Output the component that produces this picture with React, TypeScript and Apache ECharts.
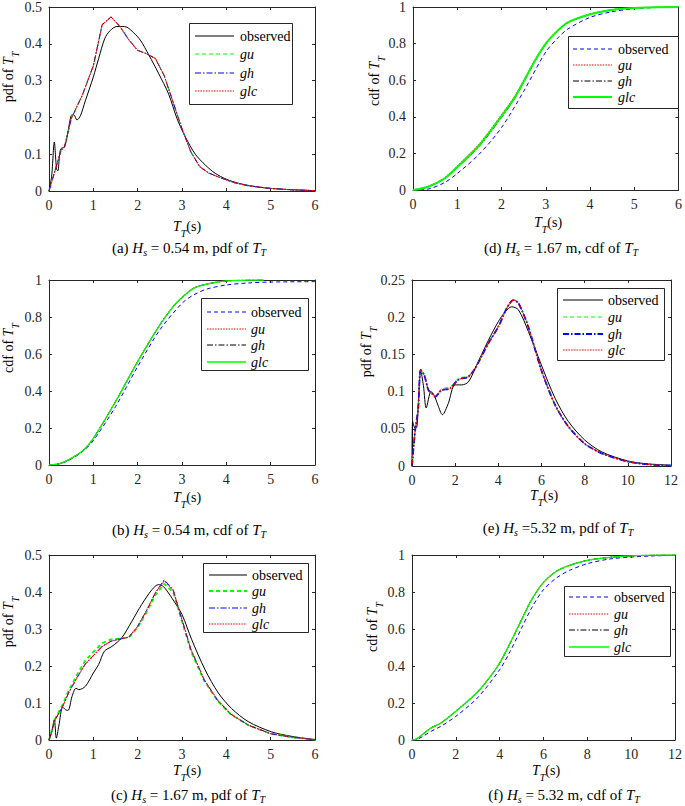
import React, { useEffect, useRef } from 'react';
import * as echarts from 'echarts';

const FONT = "'Liberation Serif', 'Times New Roman', serif";
const AX = '#262626';

// ---------- (a) Hs = 0.54 m, pdf ----------
const aObsX = [0, 0.06, 0.12, 0.17, 0.2, 0.24, 0.27, 0.35, 0.42, 0.5, 0.56, 0.63, 0.71, 0.82, 1.0, 1.12, 1.26, 1.38, 1.53, 1.65, 1.76, 1.91, 2.06, 2.25, 2.47, 2.7, 2.89, 3.08, 3.3, 3.53, 3.75, 4.0, 4.28, 4.58, 5.0, 5.48, 6.0];
const aObsY = [0, 0.04, 0.133, 0.06, 0.055, 0.1, 0.115, 0.12, 0.155, 0.205, 0.207, 0.193, 0.205, 0.245, 0.31, 0.36, 0.415, 0.436, 0.447, 0.447, 0.445, 0.43, 0.41, 0.37, 0.32, 0.263, 0.196, 0.146, 0.1, 0.07, 0.048, 0.032, 0.021, 0.0135, 0.007, 0.0036, 0.001];
const aFitX = [0, 0.14, 0.27, 0.35, 0.5, 0.75, 1.0, 1.2, 1.4, 1.6, 1.8, 2.0, 2.2, 2.4, 2.6, 2.8, 3.0, 3.2, 3.4, 3.6, 3.8, 4.0, 4.2, 4.5, 5.0, 5.5, 6.0];
const aGuY = [0, 0.057, 0.11, 0.121, 0.197, 0.26, 0.341, 0.452, 0.473, 0.447, 0.411, 0.382, 0.373, 0.36, 0.313, 0.241, 0.169, 0.106, 0.066, 0.049, 0.039, 0.03, 0.022, 0.014, 0.007, 0.003, 0.001];
const aGhY = [0, 0.057, 0.11, 0.12, 0.196, 0.26, 0.34, 0.452, 0.473, 0.447, 0.411, 0.382, 0.373, 0.36, 0.313, 0.241, 0.169, 0.106, 0.066, 0.049, 0.039, 0.03, 0.022, 0.014, 0.007, 0.003, 0.001];
const aGlcY = [0, 0.057, 0.11, 0.12, 0.196, 0.26, 0.34, 0.452, 0.473, 0.447, 0.411, 0.382, 0.373, 0.36, 0.313, 0.241, 0.169, 0.106, 0.066, 0.049, 0.039, 0.03, 0.022, 0.014, 0.007, 0.003, 0.001];

// ---------- (d) Hs = 1.67 m, cdf ----------
const dObsX = [0, 0.34, 0.71, 1.0, 1.5, 2.0, 2.5, 3.0, 3.27, 3.5, 4.0, 4.47, 5.0, 5.5, 6.0];
const dObsY = [0, 0.005, 0.04, 0.09, 0.197, 0.341, 0.539, 0.754, 0.83, 0.88, 0.943, 0.973, 0.991, 0.997, 1.0];
const dFitX = [0, 0.34, 0.71, 1.0, 1.5, 2.0, 2.29, 2.5, 2.74, 3.0, 3.27, 3.5, 4.0, 4.47, 5.0, 5.5, 6.0];
const dGuY = [0, 0.019, 0.066, 0.13, 0.252, 0.41, 0.508, 0.597, 0.703, 0.801, 0.871, 0.915, 0.96, 0.984, 0.995, 0.999, 1.0];
const dGhY = [0, 0.017, 0.061, 0.122, 0.24, 0.397, 0.497, 0.588, 0.697, 0.798, 0.87, 0.915, 0.96, 0.984, 0.995, 0.999, 1.0];
const dGlcY = [0, 0.018, 0.063, 0.126, 0.246, 0.404, 0.503, 0.593, 0.7, 0.8, 0.871, 0.916, 0.96, 0.984, 0.995, 0.999, 1.0];

// ---------- (b) Hs = 0.54 m, cdf ----------
const bObsX = [0, 0.26, 0.5, 0.78, 1.0, 1.5, 2.0, 2.5, 3.0, 3.26, 3.56, 4.0, 4.5, 5.0, 6.0];
const bObsY = [0, 0.007, 0.032, 0.077, 0.132, 0.315, 0.532, 0.73, 0.874, 0.919, 0.951, 0.973, 0.984, 0.989, 0.991];
const bFitX = [0, 0.26, 0.5, 0.78, 1.0, 1.5, 2.0, 2.5, 2.8, 3.0, 3.26, 3.56, 4.0, 4.47, 4.84];
const bGuY = [0, 0.009, 0.036, 0.081, 0.144, 0.342, 0.559, 0.757, 0.856, 0.905, 0.955, 0.978, 0.995, 0.999, 1.0];
const bGhY = [0, 0.009, 0.036, 0.081, 0.144, 0.342, 0.559, 0.757, 0.856, 0.905, 0.955, 0.978, 0.995, 0.999, 1.0];
const bGlcY = [0, 0.009, 0.036, 0.081, 0.144, 0.342, 0.559, 0.757, 0.856, 0.905, 0.955, 0.978, 0.995, 0.999, 1.0];

// ---------- (e) Hs = 5.32 m, pdf ----------
const eObsX = [0, 0.03, 0.14, 0.23, 0.32, 0.4, 0.53, 0.66, 0.88, 1.03, 1.2, 1.41, 1.68, 1.99, 2.3, 2.61, 2.92, 3.54, 4.0, 4.31, 4.62, 4.93, 5.39, 5.99, 6.63, 7.24, 8.0, 8.79, 10.0, 10.95, 12.0];
const eObsY = [0, 0.06, 0.051, 0.053, 0.1, 0.128, 0.108, 0.078, 0.1, 0.095, 0.082, 0.069, 0.084, 0.109, 0.109, 0.113, 0.131, 0.169, 0.194, 0.207, 0.214, 0.21, 0.181, 0.136, 0.091, 0.06, 0.035, 0.019, 0.0067, 0.0027, 0.001];
const eFitX = [0, 0.14, 0.29, 0.4, 0.57, 0.76, 0.91, 1.07, 1.37, 1.76, 2.15, 2.61, 2.92, 3.54, 4.0, 4.39, 4.69, 4.93, 5.39, 5.99, 6.63, 7.24, 8.0, 8.79, 10.0, 10.95, 12.0];
const eGuY = [0, 0.046, 0.078, 0.129, 0.122, 0.103, 0.099, 0.094, 0.104, 0.106, 0.118, 0.121, 0.131, 0.165, 0.188, 0.213, 0.224, 0.22, 0.187, 0.129, 0.082, 0.053, 0.03, 0.017, 0.0058, 0.0022, 0.0005];
const eGhY = [0, 0.046, 0.078, 0.129, 0.122, 0.102, 0.098, 0.093, 0.102, 0.104, 0.116, 0.12, 0.131, 0.165, 0.187, 0.212, 0.223, 0.219, 0.187, 0.129, 0.082, 0.053, 0.03, 0.017, 0.0058, 0.0022, 0.0005];
const eGlcY = [0, 0.046, 0.078, 0.129, 0.122, 0.102, 0.098, 0.093, 0.102, 0.104, 0.116, 0.12, 0.131, 0.165, 0.187, 0.212, 0.223, 0.219, 0.187, 0.129, 0.082, 0.053, 0.03, 0.017, 0.0058, 0.0022, 0.0005];

// ---------- (c) Hs = 1.67 m, pdf ----------
const cObsX = [0, 0.06, 0.12, 0.165, 0.22, 0.31, 0.37, 0.43, 0.52, 0.61, 0.67, 0.82, 1.0, 1.12, 1.25, 1.42, 1.64, 1.87, 2.09, 2.32, 2.47, 2.58, 2.77, 3.0, 3.22, 3.52, 3.82, 4.12, 4.49, 5.02, 5.47, 6.0];
const cObsY = [0, 0.02, 0.055, 0.005, 0.037, 0.089, 0.082, 0.08, 0.118, 0.14, 0.136, 0.145, 0.181, 0.204, 0.24, 0.253, 0.276, 0.321, 0.366, 0.406, 0.42, 0.415, 0.384, 0.339, 0.271, 0.19, 0.127, 0.085, 0.05, 0.022, 0.01, 0.001];
const cFitX = [0, 0.07, 0.14, 0.31, 0.44, 0.63, 0.81, 1.0, 1.2, 1.4, 1.6, 1.8, 2.0, 2.2, 2.4, 2.6, 2.8, 3.0, 3.2, 3.5, 3.8, 4.1, 4.5, 5.0, 5.5, 6.0];
const cGuY = [0, 0.03, 0.058, 0.096, 0.133, 0.176, 0.213, 0.238, 0.262, 0.272, 0.274, 0.277, 0.304, 0.345, 0.392, 0.422, 0.4, 0.32, 0.24, 0.16, 0.106, 0.069, 0.04, 0.017, 0.007, 0.001];
const cGhY = [0, 0.028, 0.055, 0.091, 0.127, 0.168, 0.204, 0.228, 0.253, 0.267, 0.273, 0.278, 0.307, 0.35, 0.398, 0.433, 0.406, 0.325, 0.245, 0.163, 0.108, 0.07, 0.04, 0.017, 0.007, 0.001];
const cGlcY = [0, 0.028, 0.055, 0.091, 0.127, 0.168, 0.204, 0.228, 0.253, 0.267, 0.273, 0.278, 0.307, 0.35, 0.398, 0.43, 0.405, 0.325, 0.245, 0.163, 0.108, 0.07, 0.04, 0.017, 0.007, 0.001];

// ---------- (f) Hs = 5.32 m, cdf ----------
const fObsX = [0, 0.2, 0.5, 0.87, 1.32, 2.0, 2.98, 4.0, 4.48, 5.0, 5.46, 6.0, 6.59, 7.19, 8.0, 9.0, 10.0, 11.0, 12.0];
const fObsY = [0, 0.002, 0.02, 0.047, 0.074, 0.128, 0.227, 0.38, 0.479, 0.605, 0.714, 0.813, 0.876, 0.917, 0.953, 0.978, 0.989, 0.995, 0.998];
const fFitX = [0, 0.2, 0.5, 0.87, 1.32, 2.0, 2.98, 3.58, 4.0, 4.48, 5.0, 5.46, 6.0, 6.59, 7.19, 8.0, 9.0, 10.0, 11.0, 12.0];
const fGuY = [0, 0.005, 0.032, 0.065, 0.092, 0.155, 0.258, 0.344, 0.416, 0.524, 0.65, 0.759, 0.852, 0.912, 0.944, 0.971, 0.987, 0.995, 0.999, 1.0];
const fGhY = [0, 0.005, 0.032, 0.065, 0.092, 0.155, 0.258, 0.344, 0.416, 0.524, 0.65, 0.759, 0.852, 0.912, 0.944, 0.971, 0.987, 0.995, 0.999, 1.0];
const fGlcY = [0, 0.005, 0.032, 0.065, 0.092, 0.155, 0.258, 0.344, 0.416, 0.524, 0.65, 0.759, 0.852, 0.912, 0.944, 0.971, 0.987, 0.995, 0.999, 1.0];

const legendNames = ['observed', 'gu', 'gh', 'glc'];

const zip = (xs: number[], ys: number[]) => xs.map((x, i) => [x, ys[i]]);

const DASH = [4, 3];
const DASHDOT = [6, 2, 1.5, 2];
const DOT = [1.5, 1.2];

type St = { color: string; width: number; dash: number[] | null };
const pdfStyles = (guW = 1, ghW = 1): St[] => [
  { color: '#000000', width: 1, dash: null },
  { color: '#00ff00', width: guW, dash: DASH },
  { color: '#0000ff', width: ghW, dash: DASHDOT },
  { color: '#ff0000', width: 1.1, dash: DOT },
];
const cdfStyles = (glcW = 1.3): St[] => [
  { color: '#0000ff', width: 1, dash: DASH },
  { color: '#ff0000', width: 1.1, dash: DOT },
  { color: '#000000', width: 1, dash: DASHDOT },
  { color: '#00ff00', width: glcW, dash: null },
];

// smoothing per series: [observed, gu, gh, glc]
const panels = [
  {
    id: 'a', grid: { left: 49, top: 5, width: 266, height: 186 }, xmax: 6, xint: 1, ymax: 0.5, yint: 0.1,
    series: [zip(aObsX, aObsY), zip(aFitX, aGuY), zip(aFitX, aGhY), zip(aFitX, aGlcY)], styles: pdfStyles(),
    smooth: [0.3, 0, 0, 0],
    legend: { box: [189, 23, 103, 81], lx: [195, 234], tx: 240, rows: [36, 54, 73, 91] },
    ylab: { x: 8, y: 77, text: 'pdf of ' }, xlab: { x: 187, y: 226 },
    cap: { x: 189, y: 248, pre: '(a) ', mid: ' = 0.54 m, pdf of ' },
  },
  {
    id: 'd', grid: { left: 413, top: 4, width: 266, height: 186 }, xmax: 6, xint: 1, ymax: 1, yint: 0.2,
    series: [zip(dObsX, dObsY), zip(dFitX, dGuY), zip(dFitX, dGhY), zip(dFitX, dGlcY)], styles: cdfStyles(2),
    smooth: [0.3, 0.3, 0.3, 0.3],
    legend: { box: [568, 36, 110, 72], lx: [573, 612], tx: 618, rows: [49, 65, 81, 97] },
    ylab: { x: 374, y: 81, text: 'cdf of ' }, xlab: { x: 548, y: 222 },
    cap: { x: 561, y: 248, pre: '(d) ', mid: ' = 1.67 m, cdf of ' },
  },
  {
    id: 'b', grid: { left: 49, top: 280, width: 266, height: 185 }, xmax: 6, xint: 1, ymax: 1, yint: 0.2,
    series: [zip(bObsX, bObsY), zip(bFitX, bGuY), zip(bFitX, bGhY), zip(bFitX, bGlcY)], styles: cdfStyles(1.3),
    smooth: [0.3, 0.3, 0.3, 0.3],
    legend: { box: [201, 298, 107, 72], lx: [207, 246], tx: 251, rows: [312, 329, 345, 362] },
    ylab: { x: 8, y: 348, text: 'cdf of ' }, xlab: { x: 187, y: 497 },
    cap: { x: 189, y: 530, pre: '(b) ', mid: ' = 0.54 m, cdf of ' },
  },
  {
    id: 'e', grid: { left: 412, top: 280, width: 259, height: 186 }, xmax: 12, xint: 2, ymax: 0.25, yint: 0.05,
    series: [zip(eObsX, eObsY), zip(eFitX, eGuY), zip(eFitX, eGhY), zip(eFitX, eGlcY)], styles: pdfStyles(1, 1.8),
    smooth: [0.3, 0.25, 0.25, 0.25],
    legend: { box: [557, 288, 107, 72], lx: [563, 603], tx: 608, rows: [300, 317, 334, 350] },
    ylab: { x: 366, y: 352, text: 'pdf of ' }, xlab: { x: 544, y: 495 },
    cap: { x: 558, y: 528, pre: '(e) ', mid: ' =5.32 m, pdf of ' },
  },
  {
    id: 'c', grid: { left: 49, top: 555, width: 266, height: 185 }, xmax: 6, xint: 1, ymax: 0.5, yint: 0.1,
    series: [zip(cObsX, cObsY), zip(cFitX, cGuY), zip(cFitX, cGhY), zip(cFitX, cGlcY)], styles: pdfStyles(1.8, 1),
    smooth: [0.3, 0, 0, 0],
    legend: { box: [203, 563, 105, 69], lx: [209, 247], tx: 252, rows: [575, 591, 608, 624] },
    ylab: { x: 8, y: 622, text: 'pdf of ' }, xlab: { x: 187, y: 770 },
    cap: { x: 188, y: 795, pre: '(c) ', mid: ' = 1.67 m, pdf of ' },
  },
  {
    id: 'f', grid: { left: 412, top: 555, width: 266, height: 185 }, xmax: 12, xint: 2, ymax: 1, yint: 0.2,
    series: [zip(fObsX, fObsY), zip(fFitX, fGuY), zip(fFitX, fGhY), zip(fFitX, fGlcY)], styles: cdfStyles(1.3),
    smooth: [0.3, 0.3, 0.3, 0.3],
    legend: { box: [564, 586, 106, 70], lx: [569, 609], tx: 614, rows: [597, 614, 630, 647] },
    ylab: { x: 372, y: 627, text: 'cdf of ' }, xlab: { x: 546, y: 770 },
    cap: { x: 564, y: 795, pre: '(f) ', mid: ' = 5.32 m, cdf of ' },
  },
];

const richFor = (size: number, sub: number, lh: number, sublh: number) => ({
  n: { fontFamily: FONT, fontSize: size, fill: '#000', lineHeight: lh, verticalAlign: 'middle' },
  i: { fontFamily: FONT, fontSize: size, fontStyle: 'italic', fill: '#000', lineHeight: lh, verticalAlign: 'middle' },
  s: { fontFamily: FONT, fontSize: sub, fontStyle: 'italic', fill: '#000', lineHeight: sublh, verticalAlign: 'bottom' },
});

function textEl(x: number, y: number, text: string, rich: any, rotation = 0) {
  return {
    type: 'text', x, y, rotation, z: 100, silent: true,
    style: {
      text, rich, fontFamily: FONT, fontSize: 14, fill: '#000',
      align: 'center', verticalAlign: 'middle', textAlign: 'center', textVerticalAlign: 'middle',
    },
  };
}

function buildOption() {
  const grid: any[] = [];
  const xAxis: any[] = [];
  const yAxis: any[] = [];
  const series: any[] = [];
  const graphic: any[] = [];

  const axisCommon = (gi: number, max: number, interval: number, position: string, labels: boolean) => ({
    type: 'value', gridIndex: gi, min: 0, max, interval, position,
    axisLine: { show: true, onZero: false, lineStyle: { color: AX, width: 1 } },
    axisTick: { show: true, inside: true, length: 3, lineStyle: { color: AX, width: 1 } },
    axisLabel: labels
      ? { show: true, color: AX, fontFamily: FONT, fontSize: 14, margin: 7, showMinLabel: true, showMaxLabel: true }
      : { show: false },
    splitLine: { show: false },
  });

  panels.forEach((p, gi) => {
    grid.push({ ...p.grid, show: false });
    xAxis.push(axisCommon(gi, p.xmax, p.xint, 'bottom', true));
    xAxis.push(axisCommon(gi, p.xmax, p.xint, 'top', false));
    yAxis.push(axisCommon(gi, p.ymax, p.yint, 'left', true));
    yAxis.push(axisCommon(gi, p.ymax, p.yint, 'right', false));

    p.series.forEach((data, si) => {
      const st = p.styles[si];
      const sm = p.smooth[si];
      series.push({
        type: 'line', name: legendNames[si], xAxisIndex: gi * 2, yAxisIndex: gi * 2,
        data, showSymbol: false, symbol: 'none', silent: true, z: 2 + si,
        smooth: sm > 0 ? sm : false,
        lineStyle: { color: st.color, width: st.width, type: st.dash ? st.dash : 'solid' },
      });
    });

    // legend
    const L = p.legend;
    graphic.push({
      type: 'rect', z: 100, silent: true,
      shape: { x: L.box[0] + 0.5, y: L.box[1] + 0.5, width: L.box[2], height: L.box[3] },
      style: { fill: '#ffffff', stroke: AX, lineWidth: 1 },
    });
    legendNames.forEach((nm, i) => {
      const st = p.styles[i];
      graphic.push({
        type: 'line', z: 101, silent: true,
        shape: { x1: L.lx[0], y1: L.rows[i], x2: L.lx[1], y2: L.rows[i] },
        style: { stroke: st.color, lineWidth: Math.max(st.width, 1.2), lineDash: st.dash ? st.dash : null },
      });
      graphic.push({
        type: 'text', z: 101, silent: true, x: L.tx, y: L.rows[i],
        style: {
          text: nm, fontFamily: FONT, fontSize: 14, fontStyle: i === 0 ? 'normal' : 'italic', fill: '#000',
          align: 'left', verticalAlign: 'middle', textAlign: 'left', textVerticalAlign: 'middle',
        },
      });
    });

    // axis labels
    const rAx = richFor(14, 10, 24, 10);
    graphic.push(textEl(p.xlab.x, p.xlab.y, '{i|T}{s|T}{n|(s)}', rAx));
    graphic.push(textEl(p.ylab.x, p.ylab.y, `{n|${p.ylab.text}}{i|T}{s|T}`, rAx, Math.PI / 2));
    // caption
    const rCap = richFor(15, 10, 18, 9);
    graphic.push(textEl(p.cap.x, p.cap.y, `{n|${p.cap.pre}}{i|H}{s|s}{n|${p.cap.mid}}{i|T}{s|T}`, rCap));
  });

  return {
    animation: false,
    backgroundColor: '#ffffff',
    grid, xAxis, yAxis, series,
    graphic: { elements: graphic },
  };
}

export default function App() {
  const ref = useRef<HTMLDivElement>(null);
  useEffect(() => {
    if (!ref.current) return;
    const chart = echarts.init(ref.current, undefined, { renderer: 'svg' });
    chart.setOption(buildOption() as any);
    return () => chart.dispose();
  }, []);
  return (
    <div
      ref={ref}
      style={{ position: 'absolute', left: 0, top: 0, width: 685, height: 806, background: '#fff' }}
    />
  );
}
